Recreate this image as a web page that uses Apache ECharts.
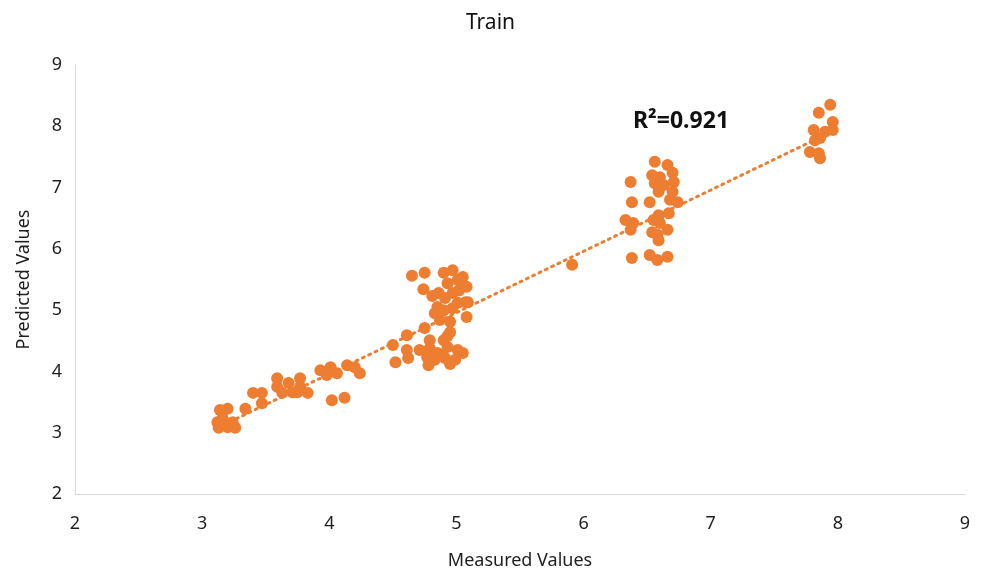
<!DOCTYPE html>
<html>
<head>
<meta charset="utf-8">
<script src="https://cdn.jsdelivr.net/npm/echarts@6/dist/echarts.min.js"></script>
<style>
  html, body { margin: 0; padding: 0; background: #fff; }
  #chart { width: 981px; height: 570px; }
</style>
</head>
<body>
<div id="chart"></div>
<script>
// measured values (x)
var measured = [
  3.14, 3.20, 3.12, 3.16, 3.13, 3.20, 3.24, 3.26, 3.34, 3.40, 3.47, 3.47, 3.59, 3.59, 3.63,
  3.68, 3.71, 3.77, 3.77, 3.83, 3.75, 3.93, 3.98, 4.01, 4.06, 4.14, 4.20, 4.24, 4.02, 4.12,
  4.50, 4.52, 4.61, 4.61, 4.62, 4.65, 4.75, 4.74, 4.81, 4.75, 4.90, 4.97, 5.05, 4.93, 5.01,
  5.08, 4.86, 4.91, 4.97, 5.01, 5.07, 4.85, 4.90, 4.97, 5.08, 4.95, 4.83, 4.87, 5.09, 4.95,
  4.90, 4.79, 4.71, 4.79, 4.85, 4.93, 5.01, 5.05, 4.77, 4.83, 4.91, 4.99, 4.95, 4.78,
  4.93, 4.88, 5.02,
  5.91,
  6.56, 6.66, 6.54, 6.60, 6.70, 6.71, 6.56, 6.63, 6.59, 6.70, 6.37, 6.38, 6.52, 6.68, 6.74,
  6.59, 6.67, 6.33, 6.39, 6.37, 6.55, 6.60, 6.54, 6.58, 6.66, 6.59, 6.38, 6.52, 6.58, 6.66,
  7.94, 7.85, 7.96, 7.81, 7.90, 7.96, 7.86, 7.82, 7.78, 7.85, 7.86
];
// predicted values (y)
var predicted = [
  3.37, 3.39, 3.17, 3.24, 3.08, 3.09, 3.17, 3.08, 3.39, 3.65, 3.65, 3.48, 3.89, 3.75, 3.65,
  3.81, 3.66, 3.89, 3.75, 3.65, 3.66, 4.02, 3.94, 4.07, 3.97, 4.10, 4.07, 3.97, 3.53, 3.57,
  4.43, 4.15, 4.59, 4.35, 4.22, 5.56, 5.61, 5.34, 5.23, 4.71, 5.61, 5.65, 5.54, 5.44, 5.49,
  5.38, 5.28, 5.20, 5.28, 5.12, 5.13, 5.05, 5.00, 5.03, 4.89, 4.81, 4.95, 4.84, 5.13, 4.64,
  4.51, 4.51, 4.35, 4.38, 4.30, 4.40, 4.35, 4.30, 4.23, 4.19, 4.22, 4.19, 4.12, 4.10,
  4.58, 4.27, 5.32,
  5.74,
  7.42, 7.37, 7.20, 7.17, 7.24, 7.09, 7.07, 7.04, 6.93, 6.93, 7.09, 6.76, 6.76, 6.80, 6.76,
  6.55, 6.58, 6.47, 6.42, 6.31, 6.47, 6.42, 6.27, 6.23, 6.31, 6.14, 5.85, 5.90, 5.82, 5.87,
  8.35, 8.22, 8.07, 7.94, 7.91, 7.94, 7.81, 7.77, 7.58, 7.56, 7.48
];
// linear trend line end points
var trendX = [3.12, 7.96];
var trendY = [3.08, 7.92];
var axisTicks = [2, 3, 4, 5, 6, 7, 8, 9];
var rSquared = 'R²=0.921';

var orange = '#ED7D31';
var textColor = '#1f1f1f';
var font = '"Noto Sans", "Open Sans", sans-serif';

var chart = echarts.init(document.getElementById('chart'));
chart.setOption({
  animation: false,
  backgroundColor: '#fff',
  title: {
    text: 'Train',
    left: 'center',
    top: 8,
    textStyle: { fontFamily: font, fontSize: 21, fontWeight: 'normal', color: '#111' }
  },
  grid: {
    left: 75,
    right: 16,
    top: 65,
    bottom: 76,
    outerBoundsMode: 'none'
  },
  xAxis: {
    type: 'value',
    min: axisTicks[0],
    max: axisTicks[axisTicks.length - 1],
    interval: 1,
    name: 'Measured Values',
    nameLocation: 'middle',
    nameGap: 58,
    nameTextStyle: { fontFamily: font, fontSize: 18, color: textColor },
    splitLine: { show: false },
    axisTick: { show: false },
    axisLine: { show: true, lineStyle: { color: '#d9d9d9', width: 1 } },
    axisLabel: { fontFamily: font, fontSize: 18, color: textColor, margin: 21 }
  },
  yAxis: {
    type: 'value',
    min: axisTicks[0],
    max: axisTicks[axisTicks.length - 1],
    interval: 1,
    name: 'Predicted Values',
    nameLocation: 'middle',
    nameGap: 42,
    nameTextStyle: { fontFamily: font, fontSize: 18, color: textColor },
    splitLine: { show: false },
    axisTick: { show: false },
    axisLine: { show: true, lineStyle: { color: '#d9d9d9', width: 1 } },
    axisLabel: { fontFamily: font, fontSize: 18, color: textColor, margin: 13 }
  },
  graphic: [
    {
      type: 'text',
      left: 633,
      top: 110,
      style: {
        text: rSquared,
        fontFamily: font,
        fontSize: 23,
        fontWeight: 'bold',
        fill: '#111'
      }
    }
  ],
  series: [
    {
      name: 'Trend',
      type: 'line',
      data: trendX.map(function (x, i) { return [x, trendY[i]]; }),
      symbol: 'none',
      lineStyle: { color: orange, width: 3, type: [2, 5], cap: 'round' },
      z: 1
    },
    {
      name: 'Train',
      type: 'scatter',
      data: measured.map(function (x, i) { return [x, predicted[i]]; }),
      symbol: 'circle',
      symbolSize: 12,
      itemStyle: { color: orange, opacity: 1 },
      z: 2
    }
  ]
});
</script>
</body>
</html>
